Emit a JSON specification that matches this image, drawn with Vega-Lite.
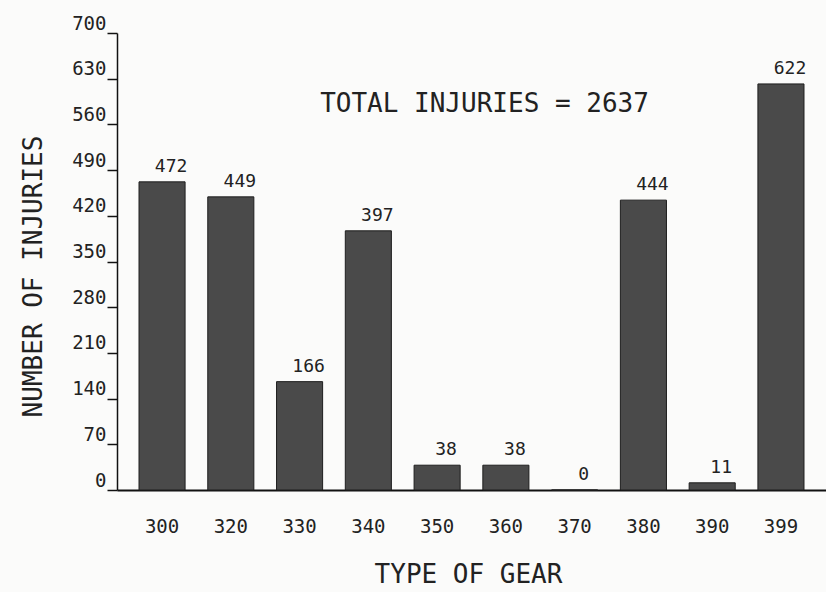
{
  "$schema": "https://vega.github.io/schema/vega-lite/v6.json",
  "width": 709,
  "height": 457,
  "autosize": {"type": "none"},
  "padding": {"left": 117, "top": 33, "right": 0, "bottom": 102},
  "background": "#fbfbfa",
  "title": {
    "text": "TOTAL INJURIES = 2637",
    "orient": "top",
    "anchor": "middle",
    "frame": "group",
    "baseline": "alphabetic",
    "offset": -124,
    "dx": 13,
    "font": "DejaVu Sans Mono",
    "fontSize": 26,
    "fontWeight": "normal",
    "color": "#222222"
  },
  "data": {
    "values": [
      {"gear": "300", "injuries": 472},
      {"gear": "320", "injuries": 449},
      {"gear": "330", "injuries": 166},
      {"gear": "340", "injuries": 397},
      {"gear": "350", "injuries": 38},
      {"gear": "360", "injuries": 38},
      {"gear": "370", "injuries": 0},
      {"gear": "380", "injuries": 444},
      {"gear": "390", "injuries": 11},
      {"gear": "399", "injuries": 622}
    ]
  },
  "encoding": {
    "x": {
      "field": "gear",
      "type": "ordinal",
      "sort": null,
      "scale": {"paddingInner": 0.33, "paddingOuter": 0.32},
      "axis": {
        "title": "TYPE OF GEAR",
        "titleFont": "DejaVu Sans Mono",
        "titleFontSize": 26,
        "titleFontWeight": "normal",
        "titleColor": "#222222",
        "titleX": 351,
        "titleY": 92,
        "titleBaseline": "alphabetic",
        "titleAnchor": null,
        "titleAlign": "center",
        "labelFont": "DejaVu Sans Mono",
        "labelFontSize": 19,
        "labelColor": "#222222",
        "labelAngle": 0,
        "labelPadding": 27,
        "ticks": false,
        "domainColor": "#111111",
        "domainWidth": 2
      }
    },
    "y": {
      "field": "injuries",
      "type": "quantitative",
      "scale": {"domain": [0, 700], "nice": false},
      "axis": {
        "title": "NUMBER OF INJURIES",
        "titleFont": "DejaVu Sans Mono",
        "titleFontSize": 26,
        "titleFontWeight": "normal",
        "titleColor": "#222222",
        "titleX": -84,
        "titleY": 243,
        "titleAngle": -90,
        "titleAlign": "center",
        "titleBaseline": "middle",
        "titleAnchor": null,
        "values": [0, 70, 140, 210, 280, 350, 420, 490, 560, 630, 700],
        "labelFont": "DejaVu Sans Mono",
        "labelFontSize": 19,
        "labelColor": "#222222",
        "labelBaseline": "bottom",
        "labelPadding": 1,
        "labelFlush": false,
        "labelOverlap": false,
        "tickSize": 10,
        "tickWidth": 1.5,
        "tickColor": "#111111",
        "domainColor": "#111111",
        "domainWidth": 1.5,
        "grid": false
      }
    }
  },
  "layer": [
    {
      "mark": {"type": "bar", "color": "#4a4a4a", "stroke": "#1e1e1e", "strokeWidth": 1}
    },
    {
      "mark": {
        "type": "text",
        "font": "DejaVu Sans Mono",
        "fontSize": 18,
        "color": "#222222",
        "baseline": "alphabetic",
        "align": "center",
        "dx": 9,
        "dy": -10
      },
      "encoding": {"text": {"field": "injuries", "type": "quantitative"}}
    }
  ],
  "config": {"view": {"stroke": null}}
}
